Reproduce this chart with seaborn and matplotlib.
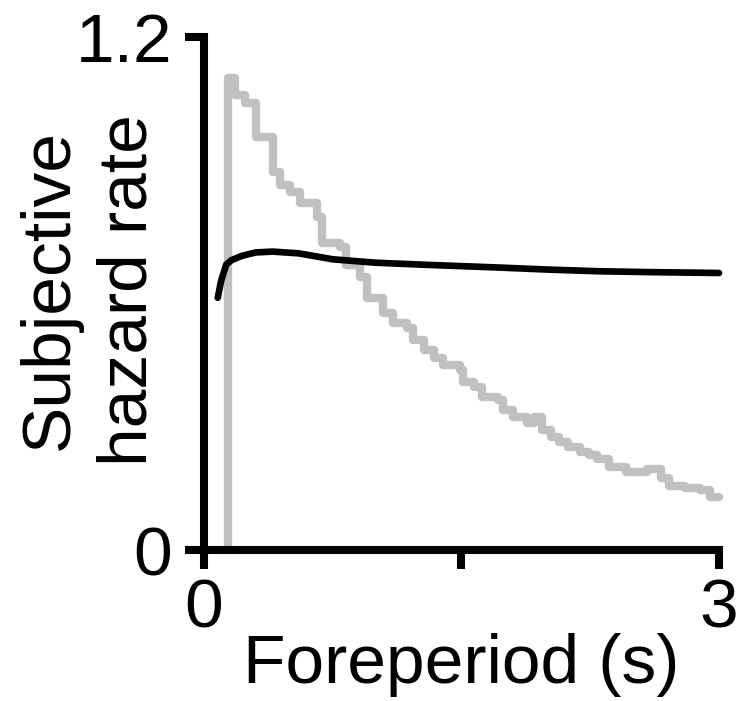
import matplotlib
matplotlib.use("Agg")
import matplotlib.pyplot as plt
import seaborn as sns
import pandas as pd

# Objective (gray, stepped) hazard rate
gray_x = [0.14, 0.14, 0.18, 0.24, 0.30, 0.40, 0.44, 0.50, 0.56, 0.66, 0.69, 0.79,
          0.83, 0.91, 0.95, 1.04, 1.10, 1.18, 1.22, 1.28, 1.34, 1.39, 1.49, 1.51,
          1.57, 1.62, 1.71, 1.74, 1.80, 1.88, 1.92, 1.97, 2.02, 2.07, 2.12, 2.19,
          2.24, 2.29, 2.36, 2.46, 2.58, 2.66, 2.71, 2.80, 2.89, 2.95, 3.00]
gray_y = [0.00, 1.105, 1.064, 1.046, 0.966, 0.884, 0.854, 0.837, 0.812, 0.780, 0.718, 0.709,
          0.667, 0.639, 0.590, 0.554, 0.531, 0.519, 0.491, 0.468, 0.449, 0.433, 0.421, 0.393,
          0.381, 0.358, 0.351, 0.327, 0.311, 0.297, 0.311, 0.281, 0.265, 0.252, 0.240, 0.229,
          0.222, 0.212, 0.194, 0.182, 0.190, 0.168, 0.150, 0.145, 0.140, 0.124, 0.124]

# Subjective (black) hazard rate
black_x = [0.08, 0.10, 0.13, 0.16, 0.22, 0.30, 0.40, 0.55, 0.75, 1.00, 1.30, 1.70,
           2.00, 2.30, 2.60, 3.00]
black_y = [0.590, 0.630, 0.668, 0.678, 0.688, 0.696, 0.698, 0.694, 0.680, 0.672, 0.667, 0.661,
           0.656, 0.652, 0.650, 0.648]

x_ticks = [0, 1.5, 3]
x_ticklabels = ["0", "", "3"]
y_ticks = [0, 1.2]
y_ticklabels = ["0", "1.2"]

sns.set_theme(style="ticks")
plt.rcParams["font.family"] = ["Liberation Sans", "DejaVu Sans"]

fig = plt.figure(figsize=(7.43, 7.01), dpi=100)
ax = fig.add_axes([204 / 743, 1 - 550 / 701, (719 - 204) / 743, (550 - 37) / 701])

gdf = pd.DataFrame({"x": gray_x, "y": gray_y})
bdf = pd.DataFrame({"x": black_x, "y": black_y})

sns.lineplot(data=gdf, x="x", y="y", ax=ax, color="#c0c0c0", linewidth=6.0,
             drawstyle="steps-post", sort=False, estimator=None, clip_on=False)
sns.lineplot(data=bdf, x="x", y="y", ax=ax, color="black", linewidth=4.8,
             sort=False, estimator=None, clip_on=False)

ax.set_xlim(0, 3)
ax.set_ylim(0, 1.2)
ax.set_xticks(x_ticks)
ax.set_xticklabels(x_ticklabels)
ax.set_yticks(y_ticks)
ax.set_yticklabels(y_ticklabels)

sns.despine(ax=ax)
for s in ["left", "bottom"]:
    ax.spines[s].set_linewidth(5.8)
    ax.spines[s].set_color("black")
ax.tick_params(axis="both", direction="out", length=14, width=5.8, color="black",
               labelsize=50, labelcolor="black")
ax.tick_params(axis="x", pad=6)
ax.tick_params(axis="y", pad=9)

ax.set_xlabel("Foreperiod (s)", fontsize=50, color="black")
ax.set_ylabel("Subjective\nhazard rate", fontsize=50, color="black", linespacing=1.3)
ax.xaxis.set_label_coords(0.5, -0.162)
ax.yaxis.set_label_coords(-0.084, 0.507)

fig.savefig("out.png", dpi=100, facecolor="white")
